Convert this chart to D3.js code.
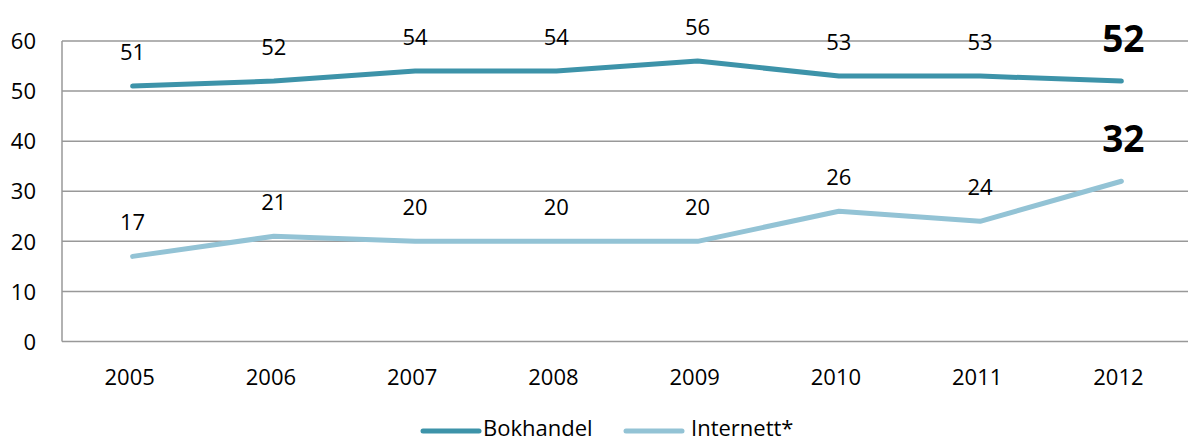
<!DOCTYPE html>
<html>
<head>
<meta charset="utf-8">
<script src="https://cdn.jsdelivr.net/npm/d3@7"></script>
<style>
  body { margin: 0; background: #fff; }
  text { font-family: "Open Sans", "DejaVu Sans", sans-serif; fill: #000; }
</style>
</head>
<body>
<script>
const w = 1188;
const h = 441;

const years = ["2005", "2006", "2007", "2008", "2009", "2010", "2011", "2012"];
const bokhandel = [51, 52, 54, 54, 56, 53, 53, 52];
const internett = [17, 21, 20, 20, 20, 26, 24, 32];
const y_ticks = [0, 10, 20, 30, 40, 50, 60];

const series = [
  { name: "Bokhandel", values: bokhandel, color: "#3d93a9" },
  { name: "Internett*", values: internett, color: "#93c3d5" }
];

const svg = d3.select("body")
  .append("svg")
  .attr("width", w)
  .attr("height", h);

const x_scale = d3.scaleBand()
  .domain(years)
  .range([62, 1192]);

const y_scale = d3.scaleLinear()
  .domain([0, 60])
  .range([341.5, 41]);

// gridlines
svg.append("g")
  .selectAll("line")
  .data(y_ticks)
  .enter()
  .append("line")
  .attr("x1", 62)
  .attr("x2", w)
  .attr("y1", d => y_scale(d))
  .attr("y2", d => y_scale(d))
  .attr("stroke", "#999")
  .attr("stroke-width", 1.5);

svg.append("line")
  .attr("x1", 62).attr("x2", 62)
  .attr("y1", y_scale(60)).attr("y2", y_scale(0))
  .attr("stroke", "#999")
  .attr("stroke-width", 1.5);

// y axis labels
const y_axis = d3.axisLeft(y_scale).tickValues(y_ticks).tickSize(0).tickPadding(26);
svg.append("g")
  .attr("class", "y axis")
  .attr("transform", "translate(62,0)")
  .call(y_axis)
  .call(g => g.select(".domain").remove())
  .selectAll("text")
  .style("font-size", "22px")
  .attr("dy", "0.35em");

// x axis labels
const x_axis = d3.axisBottom(x_scale).tickSize(0).tickPadding(28);
svg.append("g")
  .attr("class", "x axis")
  .attr("transform", `translate(-3,${y_scale(0)})`)
  .call(x_axis)
  .call(g => g.select(".domain").remove())
  .selectAll("text")
  .style("font-size", "22px");

const cx = (d, i) => x_scale(years[i]) + x_scale.bandwidth() / 2;

const line = d3.line()
  .x((d, i) => cx(d, i))
  .y(d => y_scale(d));

series.forEach(s => {
  svg.append("path")
    .datum(s.values)
    .attr("d", line)
    .attr("fill", "none")
    .attr("stroke", s.color)
    .attr("stroke-width", 5)
    .attr("stroke-linecap", "round")
    .attr("stroke-linejoin", "round");

  const last = s.values.length - 1;
  svg.append("g")
    .selectAll("text")
    .data(s.values)
    .enter()
    .append("text")
    .attr("x", (d, i) => cx(d, i) + (i === last ? 2 : 0))
    .attr("y", (d, i) => i === last ? y_scale(d) - 29 : y_scale(d) - 26)
    .attr("text-anchor", "middle")
    .style("font-size", (d, i) => i === last ? "37px" : "22px")
    .style("font-weight", (d, i) => i === last ? "bold" : "normal")
    .text(d => d);
});

// legend
const legend_items = [
  { x: 423, tx: 483, s: series[0] },
  { x: 626, tx: 691, s: series[1] }
];
legend_items.forEach(item => {
  svg.append("line")
    .attr("x1", item.x).attr("x2", item.x + 56)
    .attr("y1", 431).attr("y2", 431)
    .attr("stroke", item.s.color)
    .attr("stroke-width", 5)
    .attr("stroke-linecap", "round");
  svg.append("text")
    .attr("x", item.tx)
    .attr("y", 436)
    .style("font-size", "22px")
    .text(item.s.name);
});
</script>
</body>
</html>
